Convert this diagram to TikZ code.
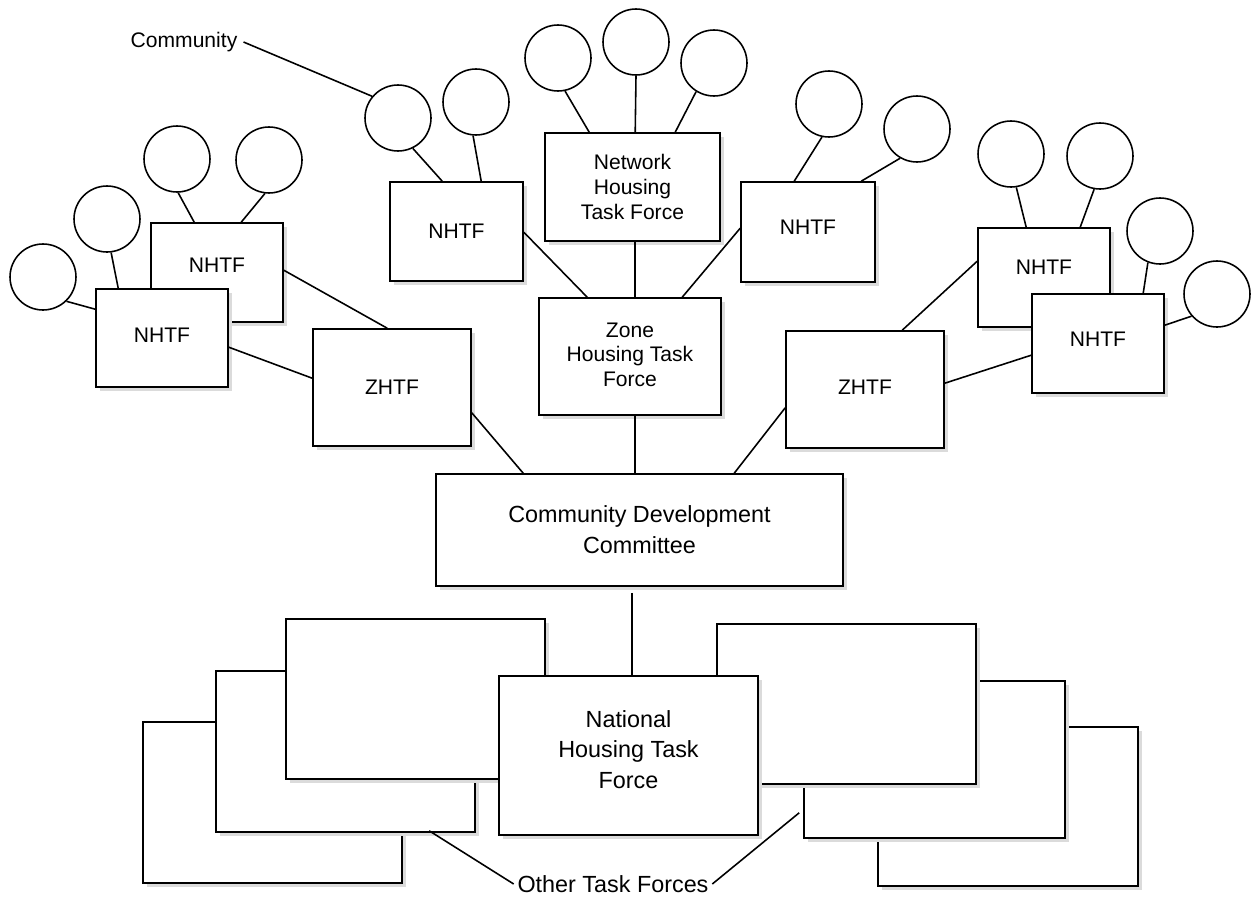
\documentclass[tikz,border=0pt]{standalone}
\usepackage{fontspec}
\setmainfont{Liberation Sans}
\usetikzlibrary{fit,calc,shadows}
\tikzset{
  box/.style={draw, fill=white, line width=0.9pt, inner sep=0pt,
    drop shadow={shadow xshift=0.07cm, shadow yshift=-0.07cm, fill=black!14, opacity=1}},
  boxtext/.style={align=center, inner sep=0pt},
  comm/.style={circle, draw, fill=white, line width=0.9pt, inner sep=0pt, minimum size=1.32cm},
  link/.style={line width=0.9pt},
  bigtext/.style={font=\fontsize{13.3}{17.5}\selectfont},
}
\begin{document}
\begin{tikzpicture}[x=0.02cm, y=-0.02cm, font=\fontsize{12}{14}\selectfont]
\useasboundingbox (0,0) rectangle (1251,899);

% ---------- community circles ----------
\node[comm] (cA) at (43,277) {};
\node[comm] (cB) at (107,219) {};
\node[comm] (cC) at (177,159) {};
\node[comm] (cD) at (269,160) {};
\node[comm] (cE) at (398,118) {};
\node[comm] (cF) at (476,102) {};
\node[comm] (cG) at (558,58) {};
\node[comm] (cH) at (636,42) {};
\node[comm] (cI) at (714,63) {};
\node[comm] (cJ) at (829,104) {};
\node[comm] (cK) at (917,129) {};
\node[comm] (cL) at (1011,154) {};
\node[comm] (cM) at (1100,156) {};
\node[comm] (cN) at (1160,231) {};
\node[comm] (cO) at (1217,294) {};

\node (community) at (184,42) {Community};

% ---------- task force boxes ----------
\node[box, fit={(151,223)(283,322)}, label={[boxtext, name=lbNt, yshift=0.14cm]center:NHTF}] (lbN) {};
\node[box, fit={(96,289)(228,387)}, label={[boxtext, name=lfNt, yshift=0.06cm]center:NHTF}] (lfN) {};
\node[box, fit={(313,329)(471,446)}, label={[boxtext, name=lZt]center:ZHTF}] (lZ) {};
\node[box, fit={(390,182)(523,281)}, label={[boxtext, name=tlNt]center:NHTF}] (tlN) {};
\node[box, fit={(545,133)(720,241)}, label={[boxtext, name=nett]center:Network\\Housing\\Task Force}] (net) {};
\node[box, fit={(539,298)(721,415)}, label={[boxtext, name=zonet, yshift=0.04cm]center:Zone\\Housing Task\\Force}] (zone) {};
\node[box, fit={(741,182)(875,282)}, label={[boxtext, name=trNt, yshift=0.1cm]center:NHTF}] (trN) {};
\node[box, fit={(786,331)(944,448)}, label={[boxtext, name=rZt, yshift=0.05cm]center:ZHTF}] (rZ) {};
\node[box, fit={(978,228)(1110,327)}, label={[boxtext, name=rbNt, yshift=0.2cm]center:NHTF}] (rbN) {};
\node[box, fit={(1032,294)(1164,393)}, label={[boxtext, name=rfNt, yshift=0.09cm]center:NHTF}] (rfN) {};
\node[box, fit={(436,474)(843,586)}, label={[boxtext, bigtext, name=cdct]center:Community Development\\Committee}] (cdc) {};

% other task forces (back to front)
\node[box, fit={(143,722)(402,883)}] (o3) {};
\node[box, fit={(216,671)(475,832)}] (o2) {};
\node[box, fit={(286,619)(545,779)}] (o1) {};
\node[box, fit={(878,727)(1138,886)}] (o6) {};
\node[box, fit={(804,681)(1065,838)}] (o5) {};
\node[box, fit={(717,624)(976,784)}] (o4) {};
\node[box, fit={(499,676)(758,835)}, label={[boxtext, bigtext, name=natt, yshift=0.12cm]center:National\\Housing Task\\Force}] (nat) {};

\node[bigtext, inner sep=2pt] (ot) at (613,884) {Other Task Forces};

% ---------- connectors ----------
\draw[link] (cA.-46) -- ($(lfN.north west)+(0,21)$);
\draw[link] (cB.-83) -- ($(lfN.north west)+(23,0)$);
\draw[link] (cC.-88) -- ($(lbN.north west)+(44,0)$);
\draw[link] (cD.-97) -- ($(lbN.north west)+(91,0)$);
\draw[link] (cE.-64) -- ($(tlN.north west)+(53,0)$);
\draw[link] (cF.-95) -- ($(tlN.north west)+(92,0)$);
\draw[link] (cG.-78) -- ($(net.north west)+(45,0)$);
\draw[link] (cH.-90) -- ($(net.north west)+(91,0)$);
\draw[link] (cI.-122) -- ($(net.north west)+(131,0)$);
\draw[link] (cJ.-102) -- ($(trN.north west)+(54,0)$);
\draw[link] (cK.-120) -- ($(trN.north west)+(121,0)$);
\draw[link] (cL.-81) -- ($(rbN.north west)+(49,0)$);
\draw[link] (cM.-100) -- ($(rbN.north west)+(103,0)$);
\draw[link] (cN.-111) -- ($(rfN.north west)+(112,0)$);
\draw[link] (cO.-139) -- ($(rfN.north east)+(0,32)$);
\draw[link] (community.east) -- (cE.140);

\draw[link] ($(lbN.north east)+(0,48)$) -- ($(lZ.north west)+(75,0)$);
\draw[link] ($(lfN.north east)+(0,59)$) -- ($(lZ.north west)+(0,50)$);
\draw[link] ($(lZ.south east)+(0,-34)$) -- ($(cdc.north west)+(88,0)$);
\draw[link] ($(tlN.north east)+(0,51)$) -- ($(zone.north west)+(49,0)$);
\draw[link] ($(net.south west)+(91,0)$) -- ($(zone.north west)+(97,0)$);
\draw[link] ($(trN.north west)+(0,47)$) -- ($(zone.north west)+(144,0)$);
\draw[link] ($(zone.south west)+(97,0)$) -- ($(cdc.north west)+(200,0)$);
\draw[link] ($(rZ.south west)+(0,-41)$) -- ($(cdc.north west)+(299,0)$);
\draw[link] ($(rZ.north west)+(117,0)$) -- ($(rbN.north west)+(0,34)$);
\draw[link] ($(rZ.north east)+(0,53)$) -- ($(rfN.north west)+(0,62)$);
\draw[link] ($(cdc.south west)+(197,6)$) -- ($(nat.north west)+(134,0)$);

\draw[link] ($(o2.south west)+(214,-2)$) -- (ot.west);
\draw[link] ($(o5.south west)+(-4,-26)$) -- (ot.east);
\end{tikzpicture}
\end{document}
